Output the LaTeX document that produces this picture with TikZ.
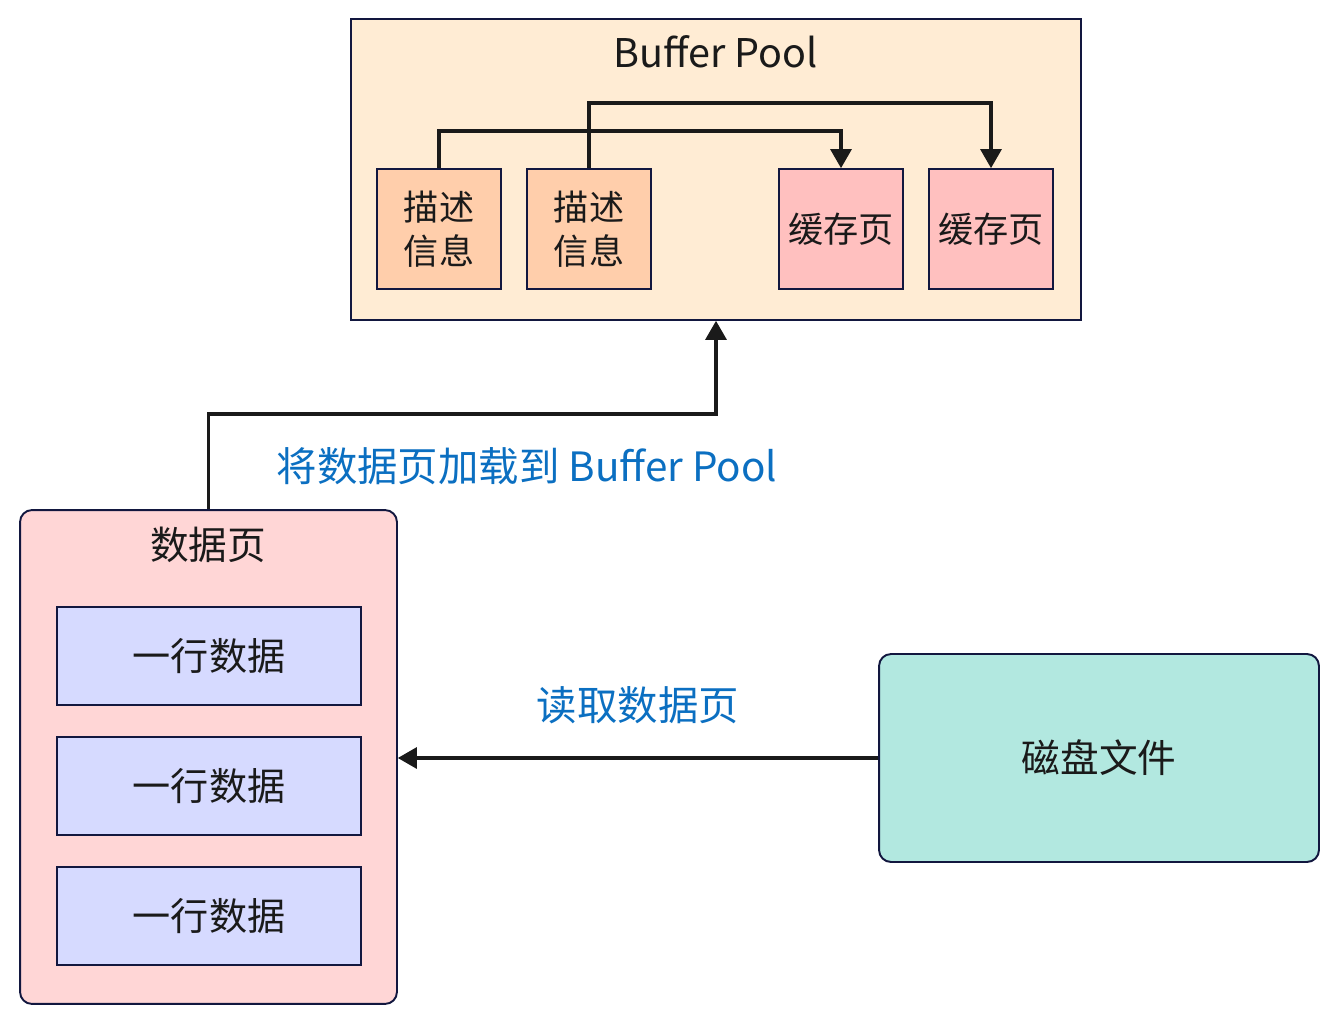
\documentclass[tikz,border=0pt]{standalone}
\usepackage{fontspec}
\setmainfont{Noto Sans CJK SC}
\usetikzlibrary{arrows}
\definecolor{poolfill}{HTML}{FFECD4}
\definecolor{descfill}{HTML}{FFCEAB}
\definecolor{cachefill}{HTML}{FFC0BF}
\definecolor{pagefill}{HTML}{FFD6D6}
\definecolor{rowfill}{HTML}{D6DAFF}
\definecolor{diskfill}{HTML}{B2E8E0}
\definecolor{edgeline}{HTML}{12173F}
\definecolor{inkblack}{HTML}{1A1A1A}
\definecolor{labelblue}{HTML}{0B6FC1}
\newcommand{\twolinelabel}[2]{#1 \\ #2}

\begin{document}
\begin{tikzpicture}[x = 0.02cm, y = -0.02cm, every node/.style = {rectangle, draw = edgeline, line width = 1.1pt, text = inkblack, font = \fontsize{20}{25}\selectfont}, plain/.style = {draw = none, fill = none}, flow/.style = {draw = inkblack, line width = 2pt, -triangle 60}]

	\useasboundingbox (0, 0) rectangle (1338, 1020);

	% buffer pool
	\node (BP)     at ( 716, 169.5) [fill = poolfill, minimum width = 14.6cm, minimum height = 6.02cm] {};
	\node (BPname) at ( 716,   52) [plain, font = \fontsize{22.5}{27}\selectfont] {Buffer Pool};
	\node (DESC1)  at ( 439,  229) [fill = descfill, align = center, minimum width = 2.48cm, minimum height = 2.4cm] {\twolinelabel{描述}{信息}};
	\node (DESC2)  at ( 589,  229) [fill = descfill, align = center, minimum width = 2.48cm, minimum height = 2.4cm] {\twolinelabel{描述}{信息}};
	\node (CACHE1) at ( 841,  229) [fill = cachefill, minimum width = 2.48cm, minimum height = 2.4cm] {缓存页};
	\node (CACHE2) at ( 991,  229) [fill = cachefill, minimum width = 2.48cm, minimum height = 2.4cm] {缓存页};

	% data page
	\node (DP)     at (208.5, 757) [fill = pagefill, rounded corners = 0.24cm, minimum width = 7.54cm, minimum height = 9.88cm] {};
	\node (DPname) at ( 208,  545) [plain, font = \fontsize{22}{26}\selectfont] {数据页};
	\foreach \name/\y in {ROW1/656, ROW2/786, ROW3/916}
		\node (\name) at (209, \y) [fill = rowfill, minimum width = 6.08cm, minimum height = 1.96cm, font = \fontsize{21.7}{26}\selectfont] {一行数据};

	% disk
	\node (DISK)   at (1099,  758) [fill = diskfill, rounded corners = 0.24cm, minimum width = 8.8cm, minimum height = 4.16cm, font = \fontsize{22}{26}\selectfont] {磁盘文件};

	\foreach \from/\level/\to in {DESC1/131/CACHE1, DESC2/103/CACHE2}
		\draw [flow] (\from.north) -- (\from.north |- 0, \level) -| (\to.north);
	\draw [flow] (DP.north) -- (DP.north |- 0, 414) -| (BP.south);
	\draw [flow] (DISK.west) -- (DP.east |- DISK.west);

	\node (LOAD)   at ( 527,  466) [plain, text = labelblue, font = \fontsize{23}{27}\selectfont] {将数据页加载到 Buffer Pool};
	\node (READ)   at ( 638,  705) [plain, text = labelblue, font = \fontsize{23}{27}\selectfont] {读取数据页};
\end{tikzpicture}
\end{document}
